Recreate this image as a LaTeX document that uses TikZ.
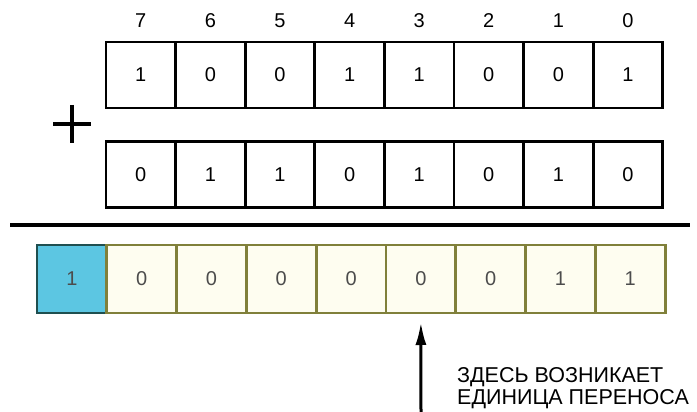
\documentclass[tikz,border=0pt]{standalone}
\usepackage{fontspec}
\setmainfont{Liberation Sans}
\usetikzlibrary{arrows.meta, positioning}

\definecolor{carryblue}{HTML}{5CC6E2}
\definecolor{carryedge}{HTML}{1F4F50}
\definecolor{sumfill}{HTML}{FEFDF0}
\definecolor{sumedge}{HTML}{80803A}

\begin{document}
\begin{tikzpicture}[
  x=1pt, y=-1pt,
  cell/.style={draw, line width=2.8pt, outer sep=0pt, inner sep=0pt,
    minimum width=69.6pt, minimum height=66pt, font=\fontsize{20}{20}\selectfont},
  sumcell/.style={cell, draw=sumedge, fill=sumfill, text=black!70,
    minimum width=69.8pt, minimum height=68pt},
  carrycell/.style={sumcell, draw=carryedge, fill=carryblue},
  idx/.style={inner sep=0pt, font=\fontsize{20}{20}\selectfont},
  note/.style={align=left, inner sep=0pt, font=\fontsize{21.5}{22.5}\selectfont},
  carry/.style={-{Latex[length=23pt, width=11pt]}, line width=3pt}
]
\useasboundingbox (0,0) rectangle (697,412);

% first term with bit numbers
\foreach \bit [count=\k from 0] in {1,0,0,1,1,0,0,1} {
  \node[cell] (a\k) at ({106+69.6*(\k+0.5)},75) {\bit};
  \pgfmathtruncatemacro{\pos}{7-\k}
  \node[idx, above=14pt of a\k] (i\k) {\pos};
}

% second term
\foreach \bit [count=\k from 0] in {0,1,1,0,1,0,1,0}
  \node[cell] (b\k) at ({106+69.6*(\k+0.5)},174.5) {\bit};

% plus sign and the sum line
\draw[line width=3.8pt] (53,124) -- (91,124) (72,105) -- (72,143);
\draw[line width=4.5pt] (10,225) -- (690,225);

% result
\node[carrycell] (s0) at (71.9,279) {1};
\foreach \bit [count=\k from 1] in {0,0,0,0,0,0,1,1}
  \node[sumcell] (s\k) at ({37+69.8*(\k+0.5)},279) {\bit};

\coordinate (tail) at (421,412);
\draw[carry, shorten >=9pt] (tail) -- (s5.south);
\node[note, anchor=north west] (note) at (457,367)
  {ЗДЕСЬ ВОЗНИКАЕТ\\ЕДИНИЦА ПЕРЕНОСА};
\end{tikzpicture}
\end{document}
